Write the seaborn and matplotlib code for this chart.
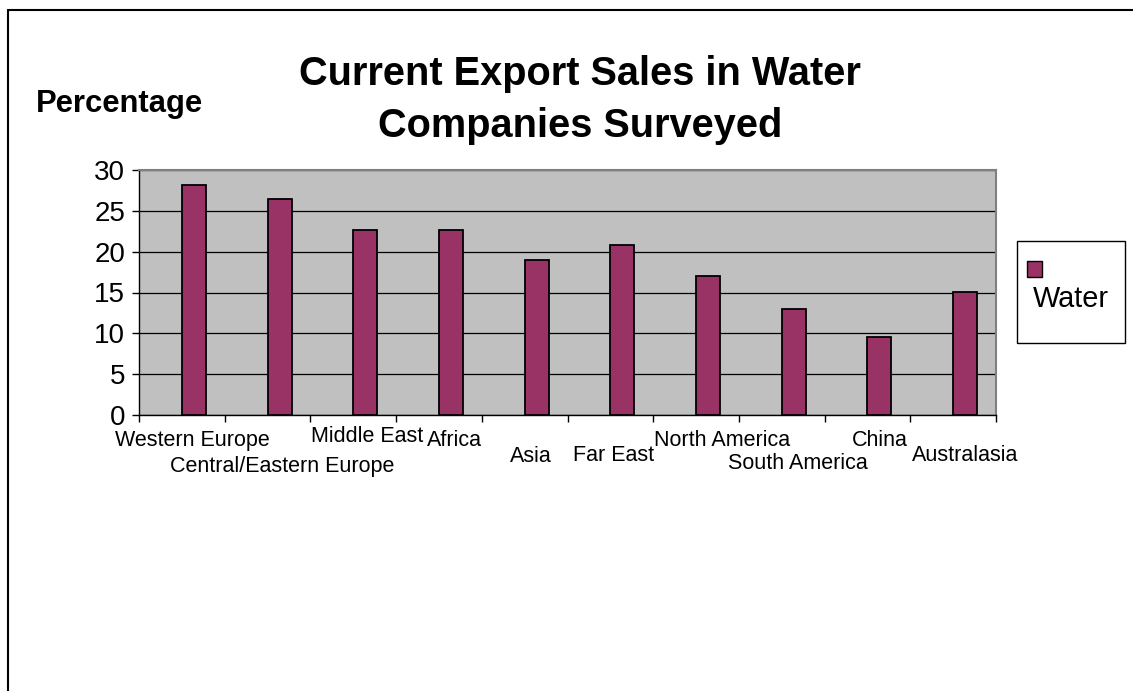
import numpy as np
import pandas as pd
import matplotlib
matplotlib.use("Agg")
import matplotlib.pyplot as plt
import matplotlib.transforms as mtrans
from matplotlib.patches import Rectangle
from matplotlib.lines import Line2D
import seaborn as sns

# ---- data ----
categories = ["Western Europe", "Central/Eastern Europe", "Middle East", "Africa",
              "Asia", "Far East", "North America", "South America", "China", "Australasia"]
water = [28.2, 26.4, 22.6, 22.6, 19.0, 20.8, 17.0, 13.0, 9.5, 15.1]
series_name = "Water"
yticks = [0, 5, 10, 15, 20, 25, 30]
title_lines = ["Current Export Sales in Water", "Companies Surveyed"]
ylabel_text = "Percentage"

# ---- styling / layout ----
W, H = 1133, 691
BAR = "#993366"
PLOT_BG = "#C0C0C0"
# label offsets (pixels) relative to category centre: dx, baseline y in px
label_dx = [10.7, 15.1, 13.7, 15.4, 6.6, 3.5, 26.4, 16.5, 12.6, 12.0]
label_base = [446, 472, 442, 446, 462, 461, 446, 469, 446, 461]

sns.set_theme(style="white")
plt.rcParams['font.family'] = ['Liberation Sans', 'DejaVu Sans']
for k in ['text.color', 'axes.labelcolor', 'xtick.color', 'ytick.color']:
    plt.rcParams[k] = 'black'

fig = plt.figure(figsize=(W / 100, H / 100), dpi=100)
ax_left, ax_right, ax_top, ax_bot = 139, 996, 170, 415
ax = fig.add_axes([ax_left / W, 1 - ax_bot / H, (ax_right - ax_left) / W, (ax_bot - ax_top) / H])
ax.set_facecolor(PLOT_BG)

df = pd.DataFrame({"Region": categories, "Percentage": water, "Series": series_name})
sns.barplot(data=df, x="Region", y="Percentage", hue="Series",
            hue_order=[" ", series_name], palette={" ": BAR, series_name: BAR},
            width=0.56, dodge=True, saturation=1, edgecolor="black", linewidth=1.3,
            legend=False, ax=ax, zorder=3)

n = len(categories)
ax.set_xlim(-0.5, n - 0.5)
ax.set_ylim(0, 30)
ax.set_yticks(yticks)
ax.set_yticklabels([str(v) for v in yticks], fontsize=20, color="black")
ax.set_xticks(np.arange(n + 1) - 0.5)
ax.set_xticklabels([""] * (n + 1))
ax.tick_params(axis="both", direction="out", length=5, width=1, color="black", pad=5,
               left=True, bottom=True, labelcolor="black")
ax.set_xlabel("")
ax.set_ylabel("")
ax.set_axisbelow(True)
ax.yaxis.grid(True, color="black", linewidth=0.9)
ax.xaxis.grid(False)
for s in ["left", "bottom"]:
    ax.spines[s].set_color("black")
    ax.spines[s].set_linewidth(1.0)
for s in ["top", "right"]:
    ax.spines[s].set_color("#808080")
    ax.spines[s].set_linewidth(1.5)

# category labels (staggered like the original)
blend = mtrans.blended_transform_factory(ax.transData, fig.transFigure)
for i, (lab, dx, yb) in enumerate(zip(categories, label_dx, label_base)):
    tr = blend + mtrans.ScaledTranslation(dx / 100, 0, fig.dpi_scale_trans)
    ax.text(i, 1 - yb / H, lab, transform=tr, ha="center", va="baseline",
            fontsize=15.5, color="black", clip_on=False)

# title
fig.text(580 / W, 1 - 85 / H, title_lines[0], ha="center", va="baseline",
         fontsize=28.6, fontweight="bold", color="black")
fig.text(580 / W, 1 - 137 / H, title_lines[1], ha="center", va="baseline",
         fontsize=28.6, fontweight="bold", color="black")
# y-axis title
fig.text(36 / W, 1 - 112 / H, ylabel_text, ha="left", va="baseline",
         fontsize=22.3, fontweight="bold", color="black")

# legend (marker above text, as in original)
fig.add_artist(Rectangle((1017 / W, 1 - 343 / H), 108 / W, 102 / H, transform=fig.transFigure,
                         fill=True, facecolor="white", edgecolor="black", linewidth=1.0))
fig.add_artist(Rectangle((1027 / W, 1 - 277 / H), 15 / W, 16 / H, transform=fig.transFigure,
                         facecolor=BAR, edgecolor="black", linewidth=1.0))
fig.text(1033 / W, 1 - 307 / H, series_name, ha="left", va="baseline", fontsize=20.8,
         color="black")

# outer frame (left and top edges)
fig.add_artist(Line2D([8 / W, 8 / W], [0, 1 - 10 / H], transform=fig.transFigure,
                      color="black", linewidth=1.5))
fig.add_artist(Line2D([8 / W, 1], [1 - 10 / H, 1 - 10 / H], transform=fig.transFigure,
                      color="black", linewidth=1.5))

fig.savefig("out.png", dpi=100)
